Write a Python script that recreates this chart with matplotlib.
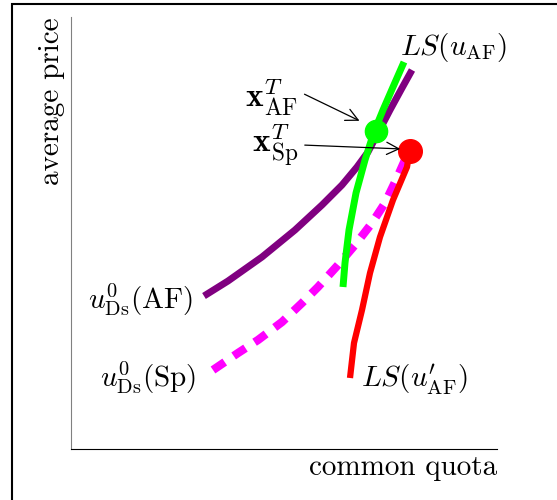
import matplotlib
matplotlib.use("Agg")
import matplotlib.pyplot as plt
from matplotlib.patches import Rectangle

plt.rcParams['mathtext.fontset'] = 'cm'
plt.rcParams['font.family'] = 'cmr10'
plt.rcParams['axes.formatter.use_mathtext'] = True

# curves (x = quota, y = price, arbitrary units)
af_x = [133, 157, 191, 224, 251, 271, 286, 297, 307, 319, 331, 341]
af_y = [153, 168, 192, 219, 244, 264, 282, 297, 316, 339, 361, 379]

sp_x = [142, 167, 187, 211, 231, 247, 267, 284, 301, 314, 326, 334]
sp_y = [79, 96, 109, 127, 146, 162, 184, 204, 226, 246, 271, 289]

ls_x = [272, 274, 278, 285, 294, 303, 312, 322, 333]
ls_y = [162, 186, 219, 256, 289, 317, 339, 362, 387]

ls2_x = [279, 283, 291, 299, 309, 322, 336, 338]
ls2_y = [71, 106, 139, 176, 212, 249, 282, 294]

pt_af = (305, 318)
pt_sp = (339, 298)

fig = plt.figure(figsize=(5.57, 5.0), dpi=100)
ax = fig.add_axes([71/557, 51/500, 426/557, 432/500])

ax.plot(af_x, af_y, color='#800080', lw=5, solid_capstyle='butt')
ax.plot(sp_x, sp_y, color='#ff00ff', lw=6, ls=(0, (1.7, 1.3)), dash_capstyle='butt')
ax.plot(ls2_x, ls2_y, color='#ff0000', lw=4.5, solid_capstyle='butt')
ax.plot(ls_x, ls_y, color='#00ff00', lw=5, solid_capstyle='butt')
ax.plot(*pt_af, 'o', color='#00ff00', ms=16)
ax.plot(*pt_sp, 'o', color='#ff0000', ms=17)

ax.annotate('', xy=(291, 327), xytext=(231, 356),
            arrowprops=dict(arrowstyle='->', color='black', lw=0.9, mutation_scale=22))
ax.annotate('', xy=(332, 300), xytext=(231, 304),
            arrowprops=dict(arrowstyle='->', color='black', lw=0.9, mutation_scale=22))

fs = 21
ax.text(329, 402, r'$LS(u_{\rm AF})$', fontsize=fs, ha='left', va='center')
ax.text(227, 352, r'$\mathbf{x}^T_{\rm AF}$', fontsize=24, ha='right', va='center')
ax.text(227, 304, r'$\mathbf{x}^T_{\rm Sp}$', fontsize=24, ha='right', va='center')
ax.text(122, 149, r'$u^0_{\rm Ds}(\rm AF)$', fontsize=fs, ha='right', va='center')
ax.text(125, 71, r'$u^0_{\rm Ds}(\rm Sp)$', fontsize=fs, ha='right', va='center')
ax.text(290, 69, r"$LS(u^{\prime}_{\rm AF})$", fontsize=fs, ha='left', va='center')

ax.set_xlim(0, 426)
ax.set_ylim(0, 432)
ax.set_xticks([])
ax.set_yticks([])
ax.spines['top'].set_visible(False)
ax.spines['right'].set_visible(False)
ax.spines['left'].set_color('#808080')
ax.set_xlabel('common quota', fontsize=fs, loc='right')
ax.set_ylabel('average price', fontsize=fs, loc='top')

fig.patches.append(Rectangle((12/557, -0.1), 1.2, 1.1 - 4/500, transform=fig.transFigure,
                             fill=False, edgecolor='black', lw=1.5, clip_on=False))

fig.savefig('out.png', dpi=100)
